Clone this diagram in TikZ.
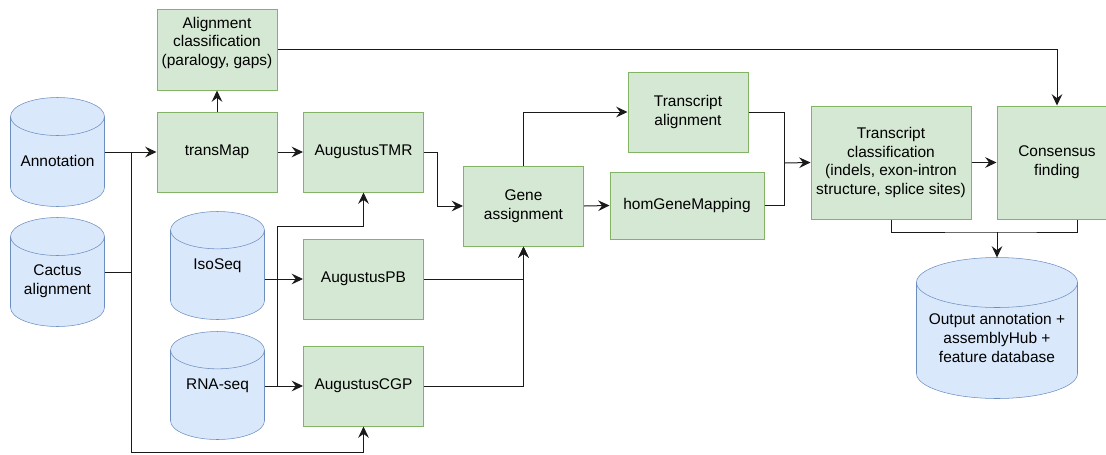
\documentclass[tikz,border=0pt]{standalone}
\usepackage{fontspec}
\setmainfont{Liberation Sans}
\usetikzlibrary{arrows.meta,calc,backgrounds}
\definecolor{boxfill}{HTML}{D5E8D4}
\definecolor{boxline}{HTML}{82B366}
\definecolor{dbfill}{HTML}{DAE8FC}
\definecolor{dbline}{HTML}{6C8EBF}
\definecolor{wire}{HTML}{1A1A1A}
% cylinder drawn round a named node: #1 node, #2 cap radius
\newcommand{\dbcyl}[2]{%
  \path[draw=dbline,fill=dbfill] let \p1=(#1.north west),\p2=(#1.south east),\n1={(\x2-\x1)/2} in
    (\x1,\y1-#2) -- (\x1,\y2+#2) arc[start angle=180,end angle=360,x radius=\n1,y radius=#2]
    -- (\x2,\y1-#2) arc[start angle=0,end angle=180,x radius=\n1,y radius=#2] -- cycle
    (\x1,\y1-#2) arc[start angle=180,end angle=360,x radius=\n1,y radius=#2];}
\begin{document}
\begin{tikzpicture}[x=0.75pt,y=-0.75pt,line width=0.75pt,
  font=\fontsize{11.6}{14}\selectfont,
  >={Stealth[length=8.5pt,width=8pt,inset=3pt]},
  box/.style={rectangle,draw=boxline,fill=boxfill,align=center,inner sep=1pt,minimum width=90pt,minimum height=60pt},
  db/.style={rectangle,align=center,inner sep=1pt,minimum width=69.75pt,minimum height=81pt},
  wire/.style={draw=wire}]
\clip[use as bounding box] (0,0) rectangle (1106,454);
% inputs
\node[db,label={[align=center,yshift=-6.75pt]center:Annotation}] (anno) at (57.5,152) {};
\node[db,label={[align=center,yshift=-7pt]center:Cactus\\alignment}] (cact) at (57.5,272) {};
\node[db,minimum height=80.25pt] (iso) at (217.5,265.5) {IsoSeq};
\node[db,minimum height=80.25pt] (rna) at (217.5,385.5) {RNA-seq};
% processing steps
\node[box,minimum height=60.75pt,text depth=12.5pt] (align) at (217,49.5) {Alignment\\classification\\(paralogy, gaps)};
\node[box] (trans) at (217,152) {transMap};
\node[box] (tmr) at (363.5,152) {AugustusTMR};
\node[box] (pb) at (363.5,279) {AugustusPB};
\node[box] (cgp) at (363.5,386) {AugustusCGP};
\node[box] (gene) at (523.5,206) {Gene\\assignment};
\node[box] (talign) at (688,112) {Transcript\\alignment};
\node[box,minimum width=115.5pt,minimum height=50.25pt] (hom) at (687,205.5) {homGeneMapping};
\node[box,minimum width=120pt,minimum height=84.75pt] (tcls) at (891,162.5) {Transcript\\classification\\(indels, exon-intron\\structure, splice sites)};
\node[box,minimum height=84.75pt] (cons) at (1057,162.5) {Consensus\\finding};
\node[db,minimum width=120pt,minimum height=105pt,label={[align=center,yshift=-7.5pt]center:Output annotation +\\assemblyHub +\\feature database}] (out) at (997,328) {};
\begin{scope}[on background layer]
\dbcyl{anno}{14.25pt}
\dbcyl{cact}{14.25pt}
\dbcyl{iso}{14pt}
\dbcyl{rna}{14pt}
\dbcyl{out}{18.75pt}
\end{scope}
% junctions
\coordinate (jA) at (131,152);
\coordinate (jB) at (131,452);
\coordinate (jC) at (277,386);
\coordinate (jD) at (277,226);
\coordinate (jE) at (784,163);
\coordinate (jF) at (997,232);
% connectors
\draw[wire,->] (anno.east) -- (trans.west);
\draw[wire] (cact.east) -| (jA);
\draw[wire,->] (jA) -- (jB) -| (cgp.south);
\draw[wire,->] (trans.north) -- (align.south);
\draw[wire,->] (trans.east) -- (tmr.west);
\draw[wire,->] (iso.east |- pb.west) -- (pb.west);
\draw[wire,->] (rna.east |- cgp.west) -- (cgp.west);
\draw[wire,->] (jC) -- (jD) -| (tmr.south);
\draw[wire,->] (tmr.east) -- ++(13,0) |- (gene.west);
\draw[wire,->] (pb.east) -| (gene.south);
\draw[wire,->] (cgp.east) -| (gene.south);
\draw[wire,->] (gene.north) |- (talign.west);
\draw[wire,->] (gene.east) -- (hom.west);
\draw[wire] (talign.east) -| (jE);
\draw[wire] (hom.east) -| (jE);
\draw[wire,->] (jE) -- (tcls.west);
\draw[wire,->] (tcls.east) -- (cons.west);
\draw[wire,->] (align.east) -| (cons.north);
\draw[wire] (tcls.south) |- (jF) -| ([xshift=15pt]cons.south);
\draw[wire,->] (jF) -- (out.north);
\end{tikzpicture}
\end{document}
